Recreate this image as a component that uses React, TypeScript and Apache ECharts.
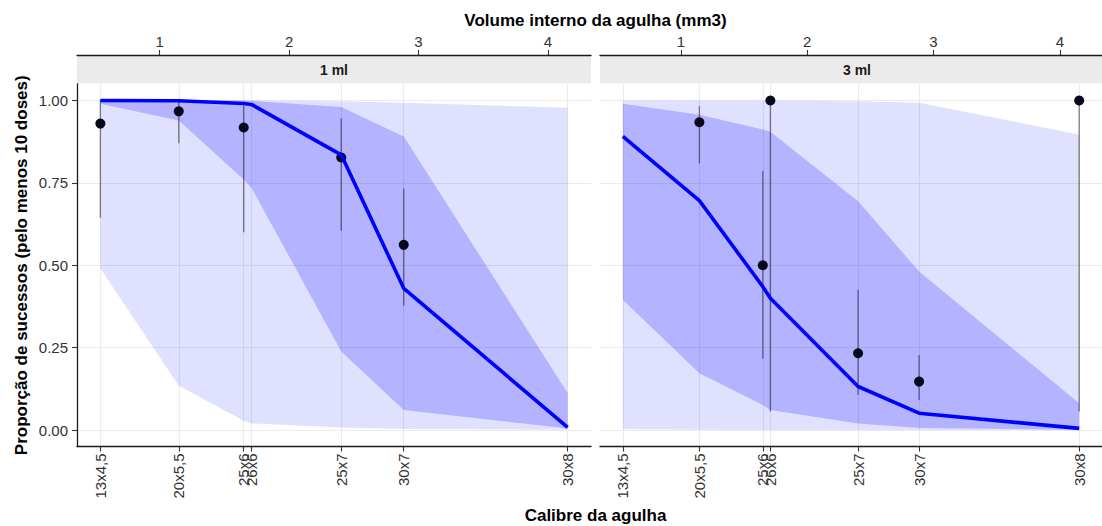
import React, { useEffect, useRef } from "react";
import * as echarts from "echarts";

// ---- data ----
const gauges = ["13x4,5", "20x5,5", "25x6", "26x6", "25x7", "30x7", "30x8"];
const volumes = [0.541, 1.147, 1.649, 1.709, 2.403, 2.886, 4.153];
const yTicks = [0, 0.25, 0.5, 0.75, 1];
const volumeTicks = [1, 2, 3, 4];
const panels = ["1 ml", "3 ml"];

// 1 ml panel
const fit1 = [1.0, 0.999, 0.991, 0.988, 0.835, 0.43, 0.008];
const inner1Lower = [0.99, 0.939, 0.76, 0.735, 0.238, 0.061, 0.005];
const inner1Upper = [1.0, 1.0, 1.0, 0.999, 0.98, 0.891, 0.112];
const outer1Lower = [0.49, 0.134, 0.028, 0.02, 0.008, 0.003, 0.001];
const outer1Upper = [1.0, 1.0, 1.0, 1.0, 0.998, 0.993, 0.978];
const obs1Idx = [0, 1, 2, 4, 5];
const obs1 = [0.93, 0.967, 0.918, 0.827, 0.562];
const obs1Lo = [0.644, 0.87, 0.6, 0.605, 0.377];
const obs1Hi = [1.0, 1.0, 0.985, 0.945, 0.733];

// 3 ml panel
const fit2 = [0.891, 0.696, 0.435, 0.4, 0.132, 0.051, 0.005];
const inner2Lower = [0.395, 0.172, 0.076, 0.061, 0.02, 0.006, 0.001];
const inner2Upper = [0.99, 0.957, 0.912, 0.905, 0.694, 0.481, 0.081];
const outer2Lower = [0.002, 0.001, 0.0, 0.0, 0.0, 0.0, 0.0];
const outer2Upper = [1.0, 1.0, 1.0, 1.0, 0.998, 0.993, 0.897];
const obs2Idx = [1, 2, 3, 4, 5, 6];
const obs2 = [0.934, 0.5, 1.0, 0.233, 0.147, 1.0];
const obs2Lo = [0.809, 0.216, 0.056, 0.106, 0.091, 0.056];
const obs2Hi = [0.983, 0.785, 1.0, 0.426, 0.228, 1.0];

// ---- layout / style ----
const FONT = "'Liberation Sans', Arial, Helvetica, sans-serif";
const GRID_TOP = 84;
const GRID_H = 362.5;
const GRID_W = 514;
const LEFTS = [77, 600];
const STRIP_H = 28;
const TICK_COLOR = "#333333";
const vMin = Math.min(...volumes);
const vMax = Math.max(...volumes);
const XMIN = vMin - 0.05 * (vMax - vMin);
const XMAX = vMax + 0.05 * (vMax - vMin);
const YMIN = -0.05;
const YMAX = 1.05;

const labelFor = (v: number) => {
  let best = 0;
  for (let i = 1; i < volumes.length; i++) {
    if (Math.abs(volumes[i] - v) < Math.abs(volumes[best] - v)) best = i;
  }
  return gauges[best];
};

function bandSeries(g: number, lower: number[], upper: number[], color: string) {
  return {
    type: "custom",
    xAxisIndex: g * 2,
    yAxisIndex: g,
    silent: true,
    data: volumes.map((v, i) => [v, lower[i], upper[i]]),
    encode: { x: 0, y: [1, 2] },
    renderItem: (params: any, api: any) => {
      if (params.dataIndex !== 0) return null;
      const pts: number[][] = [];
      for (let i = 0; i < volumes.length; i++) pts.push(api.coord([volumes[i], upper[i]]));
      for (let i = volumes.length - 1; i >= 0; i--) pts.push(api.coord([volumes[i], lower[i]]));
      return { type: "polygon", shape: { points: pts }, style: { fill: color } };
    },
  };
}

function errorSeries(g: number, idx: number[], lo: number[], hi: number[]) {
  return {
    type: "custom",
    xAxisIndex: g * 2,
    yAxisIndex: g,
    silent: true,
    data: idx.map((k, i) => [volumes[k], lo[i], hi[i]]),
    encode: { x: 0, y: [1, 2] },
    renderItem: (_params: any, api: any) => {
      const p1 = api.coord([api.value(0), api.value(1)]);
      const p2 = api.coord([api.value(0), api.value(2)]);
      return {
        type: "line",
        shape: { x1: p1[0], y1: p1[1], x2: p2[0], y2: p2[1] },
        style: { stroke: "rgba(0,0,0,0.45)", lineWidth: 1.4 },
      };
    },
  };
}

function pointSeries(g: number, idx: number[], vals: number[]) {
  return {
    type: "scatter",
    xAxisIndex: g * 2,
    yAxisIndex: g,
    silent: true,
    symbolSize: 10,
    itemStyle: { color: "#05051c", opacity: 1 },
    data: idx.map((k, i) => [volumes[k], vals[i]]),
  };
}

function lineSeries(g: number, fit: number[]) {
  return {
    type: "line",
    xAxisIndex: g * 2,
    yAxisIndex: g,
    silent: true,
    symbol: "none",
    lineStyle: { color: "#0000ff", width: 3.6 },
    data: volumes.map((v, i) => [v, fit[i]]),
  };
}

export default function App() {
  const ref = useRef<HTMLDivElement>(null);
  useEffect(() => {
    if (!ref.current) return;
    const chart = echarts.init(ref.current, undefined, { renderer: "svg" });
    const grids = LEFTS.map((l) => ({ left: l, top: GRID_TOP, width: GRID_W, height: GRID_H }));
    const xAxes: any[] = [];
    const yAxes: any[] = [];
    [0, 1].forEach((g) => {
      xAxes.push({
        type: "value",
        gridIndex: g,
        position: "bottom",
        min: XMIN,
        max: XMAX,
        axisLine: { show: true, onZero: false, lineStyle: { color: "#1a1a1a", width: 1.3 } },
        axisTick: { show: true, customValues: volumes, length: 5, lineStyle: { color: TICK_COLOR, width: 1.1 } },
        axisLabel: {
          customValues: volumes,
          rotate: 90,
          formatter: (v: number) => labelFor(v),
          color: TICK_COLOR,
          fontSize: 15,
          fontFamily: FONT,
          margin: 7,
        },
        splitLine: { show: true, lineStyle: { color: "#ebebeb", width: 1.1 } },
      });
      xAxes.push({
        type: "value",
        gridIndex: g,
        position: "top",
        offset: STRIP_H + 1,
        min: XMIN,
        max: XMAX,
        axisLine: { show: true, onZero: false, lineStyle: { color: "#1a1a1a", width: 1.3 } },
        axisTick: { show: true, customValues: volumeTicks, length: 5, lineStyle: { color: TICK_COLOR, width: 1.1 } },
        axisLabel: {
          customValues: volumeTicks,
          formatter: (v: number) => String(v),
          color: TICK_COLOR,
          fontSize: 15,
          fontFamily: FONT,
          margin: 6,
        },
        splitLine: { show: false },
      });
      yAxes.push({
        type: "value",
        gridIndex: g,
        min: YMIN,
        max: YMAX,
        axisLine: { show: g === 0, onZero: false, lineStyle: { color: "#1a1a1a", width: 1.3 } },
        axisTick: { show: g === 0, customValues: yTicks, length: 5, lineStyle: { color: TICK_COLOR, width: 1.1 } },
        axisLabel: {
          show: g === 0,
          customValues: yTicks,
          formatter: (v: number) => v.toFixed(2),
          color: TICK_COLOR,
          fontSize: 15,
          fontFamily: FONT,
          margin: 9,
        },
        splitLine: { show: true, lineStyle: { color: "#ebebeb", width: 1.1 } },
      });
    });

    const series: any[] = [];
    const sets = [
      { fit: fit1, il: inner1Lower, iu: inner1Upper, ol: outer1Lower, ou: outer1Upper, idx: obs1Idx, obs: obs1, lo: obs1Lo, hi: obs1Hi },
      { fit: fit2, il: inner2Lower, iu: inner2Upper, ol: outer2Lower, ou: outer2Upper, idx: obs2Idx, obs: obs2, lo: obs2Lo, hi: obs2Hi },
    ];
    sets.forEach((s, g) => {
      series.push(bandSeries(g, s.ol, s.ou, "rgba(0,0,255,0.12)"));
      series.push(bandSeries(g, s.il, s.iu, "rgba(0,0,255,0.2)"));
      series.push(errorSeries(g, s.idx, s.lo, s.hi));
      series.push(pointSeries(g, s.idx, s.obs));
      series.push(lineSeries(g, s.fit));
    });

    const graphics: any[] = [];
    LEFTS.forEach((l, g) => {
      graphics.push({
        type: "rect",
        shape: { x: l, y: GRID_TOP - STRIP_H - 0.5, width: GRID_W, height: STRIP_H },
        style: { fill: "#ebebeb" },
        silent: true,
      });
      graphics.push({
        type: "text",
        x: l + GRID_W / 2,
        y: GRID_TOP - STRIP_H / 2 - 0.5,
        style: {
          text: panels[g],
          fill: "#1a1a1a",
          font: `bold 14px ${FONT}`,
          textAlign: "center",
          textVerticalAlign: "middle",
        },
        silent: true,
      });
    });
    const centerX = (LEFTS[0] + LEFTS[1] + GRID_W) / 2;
    graphics.push({
      type: "text",
      x: centerX,
      y: 20,
      style: { text: "Volume interno da agulha (mm3)", fill: "#000", font: `bold 17px ${FONT}`, textAlign: "center", textVerticalAlign: "middle" },
    });
    graphics.push({
      type: "text",
      x: centerX,
      y: 515,
      style: { text: "Calibre da agulha", fill: "#000", font: `bold 17px ${FONT}`, textAlign: "center", textVerticalAlign: "middle" },
    });
    graphics.push({
      type: "text",
      x: 21,
      y: GRID_TOP + GRID_H / 2,
      rotation: Math.PI / 2,
      style: { text: "Proporção de sucessos (pelo menos 10 doses)", fill: "#000", font: `bold 17px ${FONT}`, textAlign: "center", textVerticalAlign: "middle" },
    });

    chart.setOption({
      animation: false,
      backgroundColor: "#ffffff",
      grid: grids,
      xAxis: xAxes,
      yAxis: yAxes,
      series,
      graphic: graphics,
    });
    return () => chart.dispose();
  }, []);
  return (
    <div
      ref={ref}
      style={{ position: "fixed", left: 0, top: 0, width: 1102, height: 526 }}
    />
  );
}
